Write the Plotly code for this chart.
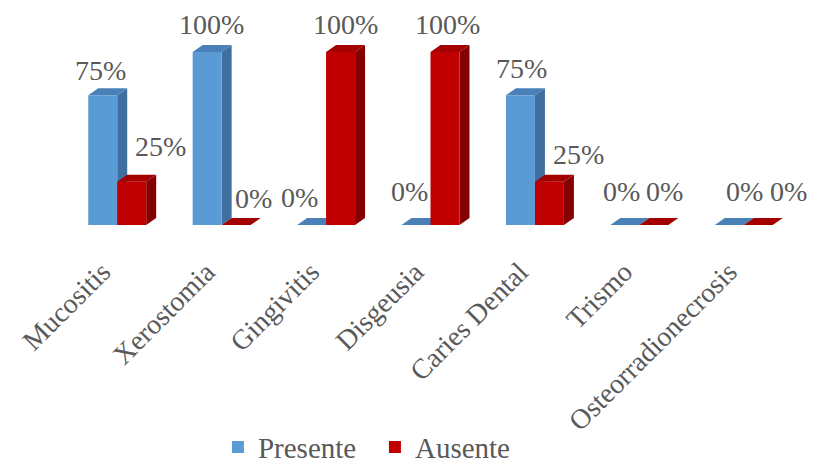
import plotly.graph_objects as go

# Oral complications after radiotherapy, share of patients (%)
categories = ["Mucositis", "Xerostomia", "Gingivitis", "Disgeusia",
              "Caries Dental", "Trismo", "Osteorradionecrosis"]
presente = [75, 100, 0, 0, 75, 0, 0]
ausente = [25, 0, 100, 100, 25, 0, 0]

# Small pixel nudges for the value labels (x, y above the bar top)
label_dx_presente = [-2, 4, -12, -7, 1, -3, 15]
label_dx_ausente = [29, 17, 5, 3, 29, 11, 30]
label_dy_presente = [25, 28, 28, 34, 27, 34, 34]
label_dy_ausente = [35, 27, 28, 28, 27, 34, 34]

W, H = 823, 465
M_L, M_R, M_T, M_B = 65, 27, 0, 240
plot_w = W - M_L - M_R
plot_h = H - M_T - M_B
Y_MAX = 130.06
BARGAP = 0.445

px_x = plot_w / len(categories)
px_y = plot_h / Y_MAX
depth_x = 10 / px_x          # 3-D depth offset in data units
depth_y = 7 / px_y

series = [
    dict(name="Presente", values=presente, front="#5B9BD5", side="#3F6F9E",
         top="#4A80B8", dx=label_dx_presente, dy=label_dy_presente, side_sign=-1),
    dict(name="Ausente", values=ausente, front="#C00000", side="#850000",
         top="#A30000", dx=label_dx_ausente, dy=label_dy_ausente, side_sign=1),
]

xs = list(range(len(categories)))
half = (1 - BARGAP) / 2

fig = go.Figure()
shapes = []
annotations = []
text_color = "#595959"
font_family = "Liberation Serif"

for s in series:
    fig.add_trace(go.Bar(
        x=xs, y=s["values"], name=s["name"],
        marker=dict(color=s["front"], line=dict(width=0)),
    ))
    for i, v in enumerate(s["values"]):
        if s["side_sign"] < 0:
            x0, x1 = i - half, i
        else:
            x0, x1 = i, i + half
        # right side face
        if v > 0:
            shapes.append(dict(
                type="path", layer="below", line=dict(width=0),
                fillcolor=s["side"], xref="x", yref="y",
                path=(f"M{x1},0 L{x1},{v} L{x1 + depth_x},{v + depth_y} "
                      f"L{x1 + depth_x},{depth_y} Z"),
            ))
        # top face
        shapes.append(dict(
            type="path", layer="below", line=dict(width=0),
            fillcolor=s["top"], xref="x", yref="y",
            path=(f"M{x0},{v} L{x1},{v} L{x1 + depth_x},{v + depth_y} "
                  f"L{x0 + depth_x},{v + depth_y} Z"),
        ))
        annotations.append(dict(
            x=(x0 + x1) / 2, y=v, xref="x", yref="y",
            text=f"{v}%", showarrow=False,
            xshift=s["dx"][i], yshift=s["dy"][i],
            xanchor="center", yanchor="middle",
            font=dict(family=font_family, size=28, color=text_color),
        ))

fig.update_layout(
    width=W, height=H,
    margin=dict(l=M_L, r=M_R, t=M_T, b=M_B, autoexpand=False),
    paper_bgcolor="white", plot_bgcolor="white",
    font=dict(family=font_family, size=28, color=text_color),
    barmode="group", bargap=BARGAP, bargroupgap=0,
    shapes=shapes, annotations=annotations,
    showlegend=True,
    legend=dict(orientation="h", x=0.424, y=-0.987, xanchor="center",
                yanchor="middle", entrywidth=112, entrywidthmode="pixels",
                font=dict(family=font_family, size=29, color=text_color),
                traceorder="normal"),
    xaxis=dict(
        range=[-0.5, len(categories) - 0.5], automargin=False,
        tickmode="array", tickvals=xs, ticktext=categories,
        tickangle=-45, showgrid=False, zeroline=False, showline=False,
        ticks="", ticklabelstandoff=24, ticklabelshift=-15,
        tickfont=dict(family=font_family, size=28, color=text_color),
    ),
    yaxis=dict(range=[0, Y_MAX], visible=False, showgrid=False,
               zeroline=False, automargin=False),
)

fig.write_html("out.html")
